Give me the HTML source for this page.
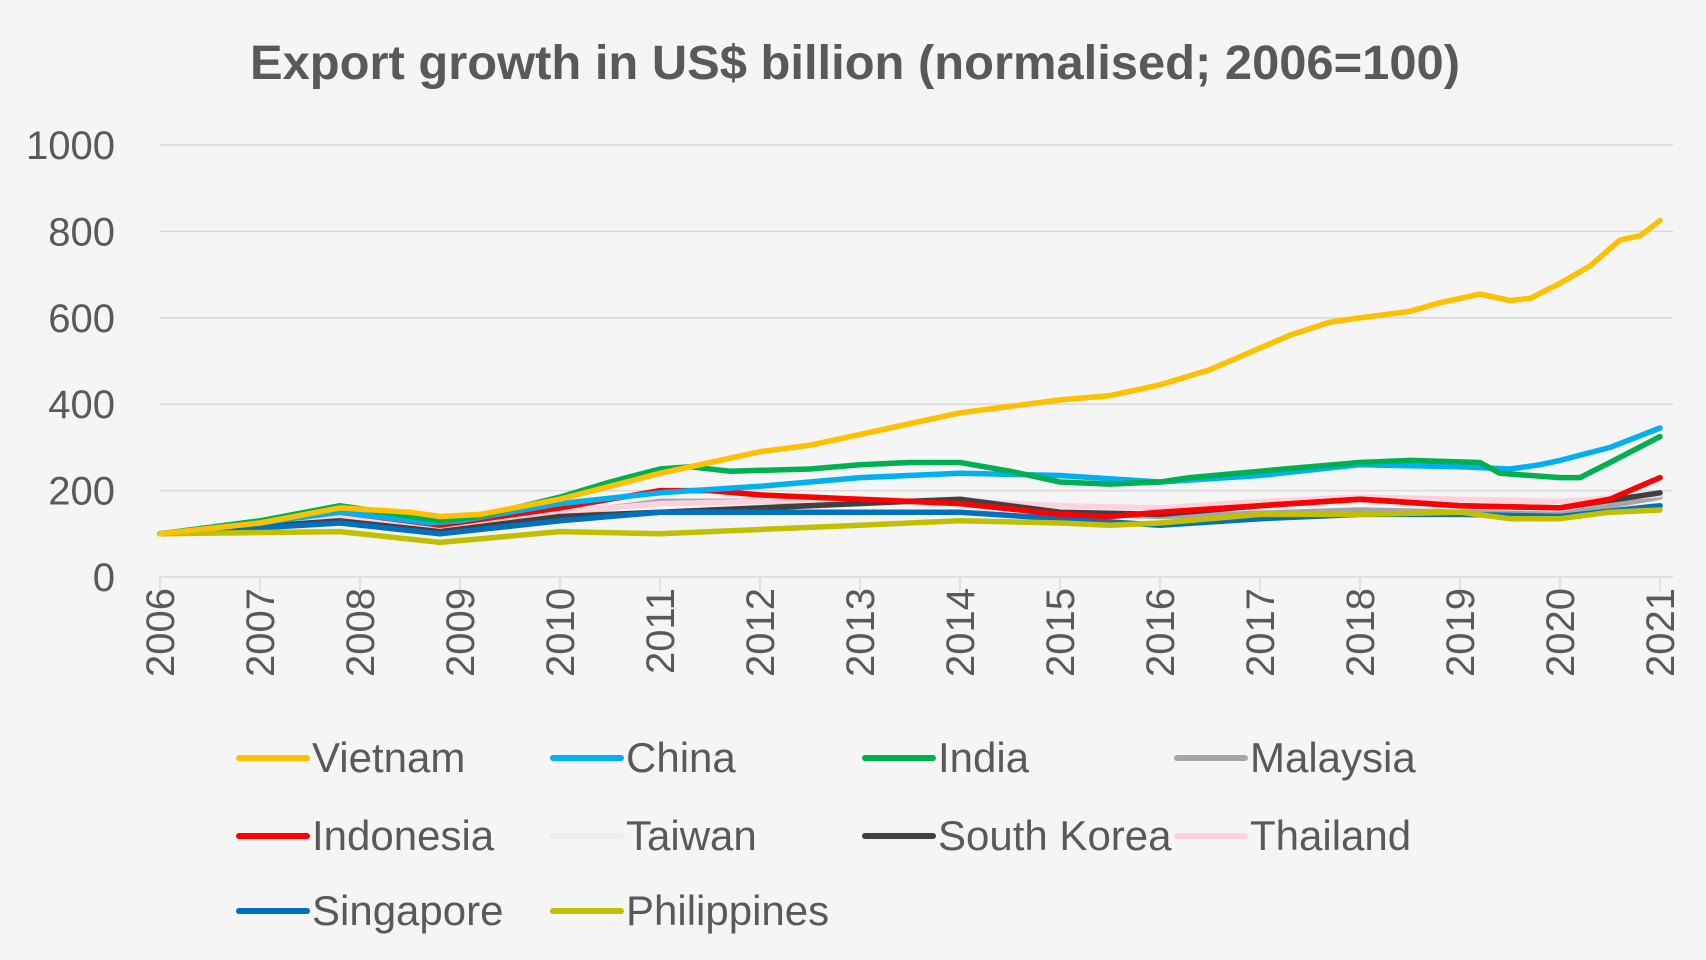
<!DOCTYPE html>
<html><head><meta charset="utf-8"><style>
html,body{margin:0;padding:0;background:#f5f5f5;}
svg{display:block;font-family:"Liberation Sans",Calibri,sans-serif;}
</style></head><body>
<svg id="chart" width="1706" height="960">
<rect width="1706" height="960" fill="#f5f5f5"/>
<text x="855" y="79" text-anchor="middle" font-size="48" font-weight="bold" fill="#595959" textLength="1210" lengthAdjust="spacingAndGlyphs">Export growth in US$ billion (normalised; 2006=100)</text>
<g id="grid"></g><g id="axes"></g><g id="series"></g><g id="legend"></g>
</svg>
<script>
const yTicks=[0,200,400,600,800,1000];
const xTicks=[2006,2007,2008,2009,2010,2011,2012,2013,2014,2015,2016,2017,2018,2019,2020,2021];
const names=["Vietnam","China","India","Malaysia","Indonesia","Taiwan","South Korea","Thailand","Singapore","Philippines"];
const colors=["#ffc000","#00b0f0","#00b050","#a6a6a6","#ff0000","#ededed","#404040","#ffd1dc","#0070c0","#c0c000"];
const vietnamX=[2006,2007,2007.8,2008.5,2008.8,2009.2,2010,2010.5,2011,2011.5,2012,2012.5,2013,2013.5,2014,2014.5,2015,2015.5,2016,2016.5,2017,2017.3,2017.7,2018,2018.5,2018.8,2019,2019.2,2019.5,2019.7,2020,2020.3,2020.6,2020.8,2021];
const vietnamY=[100,125,160,150,140,145,180,210,240,265,290,305,330,355,380,395,410,420,445,480,530,560,590,600,615,635,645,655,640,645,680,720,780,790,825];
const chinaX=[2006,2007,2007.8,2008.7,2009,2010,2011,2012,2012.5,2013,2014,2015,2016,2017,2018,2019,2019.5,2019.8,2020,2020.5,2021];
const chinaY=[100,125,150,125,130,170,195,210,220,230,240,235,220,235,260,255,250,260,270,300,345];
const indiaX=[2006,2007,2007.8,2008.8,2009.2,2010,2010.5,2011,2011.3,2011.7,2012.5,2013,2013.5,2014,2014.5,2015,2015.5,2016,2016.3,2017,2017.5,2018,2018.5,2019.2,2019.4,2020,2020.2,2020.5,2021];
const indiaY=[100,130,165,130,140,185,220,250,255,245,250,260,265,265,245,220,215,220,230,245,255,265,270,265,240,230,230,265,325];
const malaysiaX=[2006,2007.8,2008.8,2011,2014,2015,2016,2018,2019,2020,2021];
const malaysiaY=[100,140,110,175,175,150,140,155,150,145,185];
const indonesiaX=[2006,2007.8,2008.8,2010,2011,2011.5,2012,2013,2014,2015,2015.5,2016,2017,2018,2019,2020,2020.5,2021];
const indonesiaY=[100,150,120,160,200,200,190,180,170,145,140,150,165,180,165,160,180,230];
const taiwanX=[2006,2007.8,2008.8,2011,2014,2015,2016,2018,2019,2020,2021];
const taiwanY=[100,135,105,175,180,165,160,175,165,170,190];
const koreaX=[2006,2007.8,2008.8,2010,2011,2012,2014,2015,2016,2017,2018,2019,2020,2021];
const koreaY=[100,130,105,140,150,160,180,150,145,165,180,165,160,195];
const thailandX=[2006,2007.8,2008.8,2010,2011,2012,2013,2014,2015,2016,2017,2018,2019,2020,2021];
const thailandY=[100,140,115,150,170,175,180,175,165,160,175,185,180,175,190];
const singaporeX=[2006,2007.8,2008.8,2010,2011,2013,2014,2015,2016,2017,2018,2019,2020,2021];
const singaporeY=[100,125,100,130,150,150,150,135,120,135,145,145,140,165];
const philippinesX=[2006,2007.8,2008.8,2010,2011,2012,2013,2014,2015,2015.5,2016,2017,2018,2019,2019.5,2020,2020.5,2021];
const philippinesY=[100,105,80,105,100,110,120,130,125,120,125,145,145,150,135,135,150,155];
const seriesX=[vietnamX,chinaX,indiaX,malaysiaX,indonesiaX,taiwanX,koreaX,thailandX,singaporeX,philippinesX];
const seriesY=[vietnamY,chinaY,indiaY,malaysiaY,indonesiaY,taiwanY,koreaY,thailandY,singaporeY,philippinesY];
const NS="http://www.w3.org/2000/svg";
const X0=160,X1=1660,Y0=577,Y1=145;
const xs=v=>X0+(v-2006)/15*(X1-X0);
const ys=v=>Y0-v/1000*(Y0-Y1);
function mk(t,a,p){const e=document.createElementNS(NS,t);for(const k in a)e.setAttribute(k,a[k]);p.appendChild(e);return e;}
const grid=document.getElementById('grid'),axes=document.getElementById('axes'),ser=document.getElementById('series'),leg=document.getElementById('legend');
yTicks.forEach(t=>{
  if(t>0){const l=mk('line',{x1:X0,x2:1673,y1:ys(t),y2:ys(t),stroke:'#d9d9d9','stroke-width':1.5},grid);
  
  }
  const tx=mk('text',{x:115,y:ys(t)+14,'text-anchor':'end','font-size':40,fill:'#595959'},axes);tx.textContent=t;
  
  
});
const ax=mk('line',{x1:X0,x2:1673,y1:Y0,y2:Y0,stroke:'#d9d9d9','stroke-width':1.5},axes);


xTicks.forEach(t=>{
  const x=xs(t);
  const tk=mk('line',{x1:x,x2:x,y1:Y0,y2:Y0+14,stroke:'#d9d9d9','stroke-width':1.5},axes);
  
  
  const tx=mk('text',{x:0,y:0,'text-anchor':'end','font-size':40,fill:'#595959',transform:`translate(${x+14},588) rotate(-90)`},axes);tx.textContent=t;
  
  
});
const order=[5,3,7,6,8,9,4,1,2,0];
order.forEach(i=>{
  const d=seriesX[i].map((v,j)=>(j?'L':'M')+xs(v).toFixed(1)+','+ys(seriesY[i][j]).toFixed(1)).join(' ');
  const p=mk('path',{d:d,fill:'none',stroke:colors[i],'stroke-width':5.5,'stroke-linejoin':'round','stroke-linecap':'round'},ser);
  
  
});
const colX=[239,553,865,1177],rowY=[758,836,911];
names.forEach((n,i)=>{
  const x=colX[i%4],y=rowY[Math.floor(i/4)];
  const g=mk('g',{},leg);
  
  
  mk('line',{x1:x,x2:x+68,y1:y,y2:y,stroke:colors[i],'stroke-width':6,'stroke-linecap':'round'},g);
  const t=mk('text',{x:x+73,y:y+14,'font-size':42,fill:'#595959'},g);t.textContent=n;
});
</script>
</body></html>
